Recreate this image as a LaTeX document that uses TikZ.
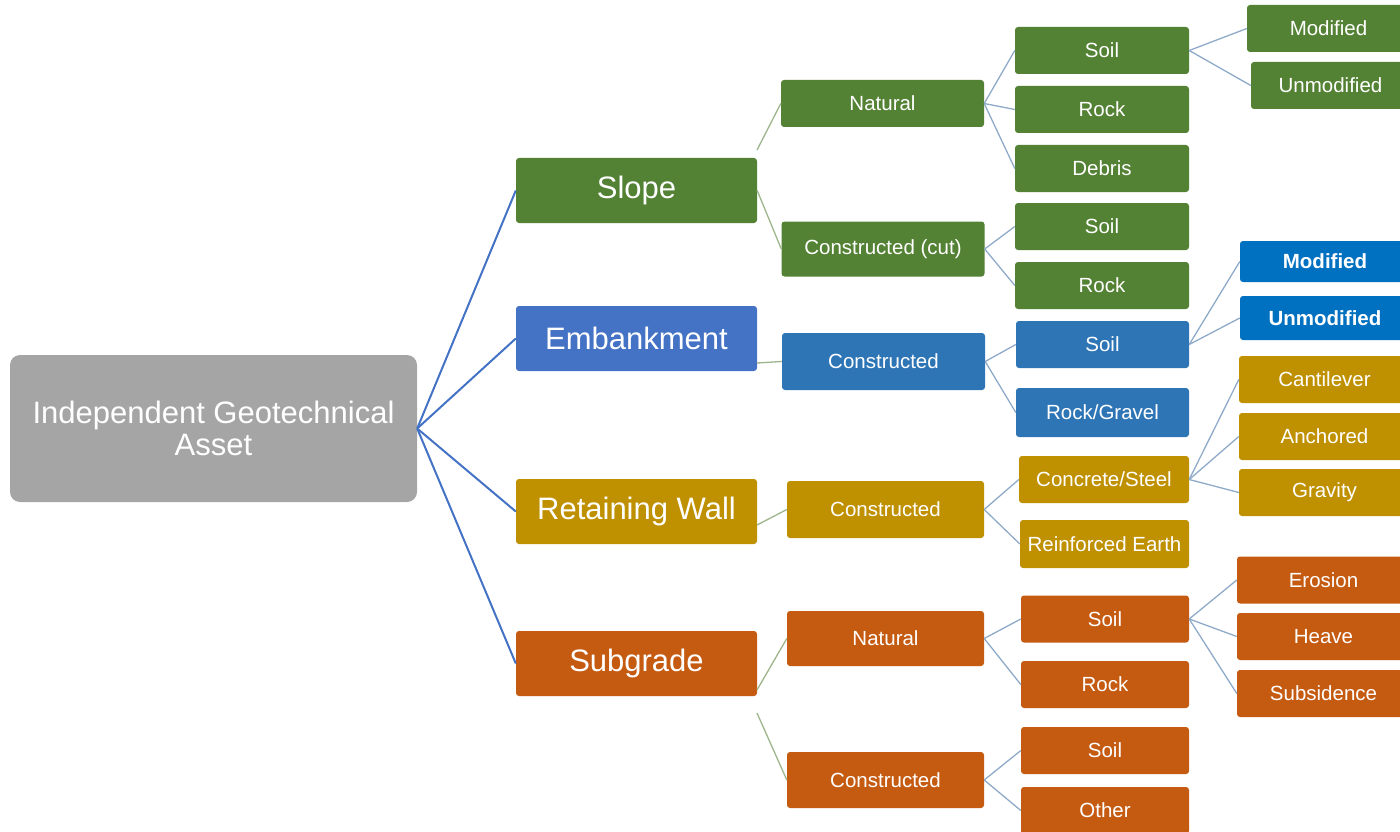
\documentclass[tikz,border=0pt]{standalone}
\usepackage{fontspec}
\setmainfont{Liberation Sans}
\usepackage{xcolor}
\usepackage{tikz}
\usetikzlibrary{positioning,calc}

\definecolor{rootgray}{HTML}{A5A5A5}
\definecolor{slopegreen}{HTML}{548235}
\definecolor{embblue}{HTML}{4472C4}
\definecolor{embsub}{HTML}{2E75B6}
\definecolor{embleaf}{HTML}{0070C0}
\definecolor{wallgold}{HTML}{BF9000}
\definecolor{subgorange}{HTML}{C55A11}
\definecolor{trunkline}{HTML}{4472C4}
\definecolor{twigline}{HTML}{8FAAC8}
\definecolor{stemline}{HTML}{9CB58A}

\tikzset{
  box/.style={rectangle, rounded corners=3pt, inner sep=0pt, text=white, font=\fontsize{20.5}{22}\selectfont},
  rootbox/.style={box, fill=rootgray, rounded corners=10pt, minimum width=407pt, minimum height=147pt,
    align=center, font=\fontsize{31}{32}\selectfont},
  topbox/.style={box, minimum width=241pt, minimum height=65pt, font=\fontsize{31}{34}\selectfont},
  midbox/.style={box, minimum width=203pt, minimum height=55pt},
  subbox/.style={box, minimum width=174pt, minimum height=47pt},
  leafbox/.style={box, minimum width=170pt, minimum height=47pt},
  trunk/.style={draw=trunkline, line width=2pt},
  stem/.style={draw=stemline, line width=1.3pt},
  twig/.style={draw=twigline, line width=1.3pt}
}

\begin{document}
\begin{tikzpicture}[x=1pt, y=-1pt]
    \useasboundingbox (0,0) rectangle (1400,832);
    \clip (0,0) rectangle (1400,832);

    % root and the four asset types
    \node[rootbox] (root) at (213.5,428.5) {Independent Geotechnical\\Asset};
    \node[topbox, fill=slopegreen] (slope) at (636.5,190.5) {Slope};
    \node[topbox, fill=embblue] (emb) at (636.5,338.5) {Embankment};
    \node[topbox, fill=wallgold] (wall) at (636.5,511.5) {Retaining Wall};
    \node[topbox, fill=subgorange] (subg) at (636.5,663.5) {Subgrade};
    \foreach \t in {slope,emb,wall,subg} \draw[trunk] (root.east) -- (\t.west);

    % second level
    \node[midbox, fill=slopegreen, minimum height=47pt] (nat1) at (882.5,103.5) {Natural};
    \node[midbox, fill=slopegreen] (cut1) at (883,249) {Constructed (cut)};
    \node[midbox, fill=embsub, minimum height=57pt] (con2) at (883.5,361.5) {Constructed};
    \node[midbox, fill=wallgold, minimum width=197pt, minimum height=57pt] (con3) at (885.5,509.5) {Constructed};
    \node[midbox, fill=subgorange, minimum width=197pt] (nat4) at (885.5,638.5) {Natural};
    \node[midbox, fill=subgorange, minimum width=197pt, minimum height=56pt] (con4) at (885.5,780) {Constructed};

    \coordinate (s1) at (757,150);
    \coordinate (s2) at (757,190);
    \coordinate (e1) at (757,363);
    \coordinate (w1) at (757,525);
    \coordinate (g1) at (757,690);
    \coordinate (g2) at (757,713);
    \draw[stem] (s1) -- (nat1.west);
    \draw[stem] (s2) -- (cut1.west);
    \draw[stem] (e1) -- (con2.west);
    \draw[stem] (w1) -- (con3.west);
    \draw[stem] (g1) -- (nat4.west);
    \draw[stem] (g2) -- (con4.west);

    % third level
    \foreach \n/\y/\t in {soil1/50.5/Soil, rock1/109.5/Rock, debris1/168.5/Debris,
                          soil1b/226.5/Soil, rock1b/285.5/Rock}
        \node[subbox, fill=slopegreen] (\n) at (1102,\y) {\t};
    \node[subbox, fill=embsub, minimum width=173pt] (soil2) at (1102.5,344.5) {Soil};
    \node[subbox, fill=embsub, minimum width=173pt, minimum height=49pt] (rock2) at (1102.5,412.5) {Rock/Gravel};
    \node[subbox, fill=wallgold, minimum width=170pt] (cs3) at (1104,479.5) {Concrete/Steel};
    \node[subbox, fill=wallgold, minimum width=169pt, minimum height=48pt] (re3) at (1104.5,544) {Reinforced Earth};
    \foreach \n/\y/\t in {soil4/619/Soil, rock4/684.5/Rock, soil4b/750.5/Soil, other4/810.5/Other}
        \node[subbox, fill=subgorange, minimum width=168pt] (\n) at (1105,\y) {\t};

    \foreach \c in {soil1,rock1,debris1} \draw[twig] (nat1.east) -- (\c.west);
    \foreach \c in {soil1b,rock1b} \draw[twig] (cut1.east) -- (\c.west);
    \foreach \c in {soil2,rock2} \draw[twig] (con2.east) -- (\c.west);
    \foreach \c in {cs3,re3} \draw[twig] (con3.east) -- (\c.west);
    \foreach \c in {soil4,rock4} \draw[twig] (nat4.east) -- (\c.west);
    \foreach \c in {soil4b,other4} \draw[twig] (con4.east) -- (\c.west);

    % fourth level, cut off at the right edge
    \node[leafbox, fill=slopegreen, minimum width=163pt] (mod1) at (1328.5,28.5) {Modified};
    \node[leafbox, fill=slopegreen, minimum width=159pt] (unmod1) at (1330.5,85.5) {Unmodified};
    \node[leafbox, fill=embleaf, minimum height=41pt, font=\fontsize{20.5}{22}\selectfont\bfseries] (mod2) at (1325,261.5) {Modified};
    \node[leafbox, fill=embleaf, minimum height=44pt, font=\fontsize{20.5}{22}\selectfont\bfseries] (unmod2) at (1325,318) {Unmodified};
    \foreach \n/\y/\t in {cant3/379.5/Cantilever, anch3/436.5/Anchored, grav3/492.5/Gravity}
        \node[leafbox, fill=wallgold, minimum width=171pt] (\n) at (1324.5,\y) {\t};
    \foreach \n/\y/\t in {eros4/580/Erosion, heave4/636.5/Heave, subs4/693.5/Subsidence}
        \node[leafbox, fill=subgorange, minimum width=173pt] (\n) at (1323.5,\y) {\t};

    \foreach \c in {mod1,unmod1} \draw[twig] (soil1.east) -- (\c.west);
    \foreach \c in {mod2,unmod2} \draw[twig] (soil2.east) -- (\c.west);
    \foreach \c in {cant3,anch3,grav3} \draw[twig] (cs3.east) -- (\c.west);
    \foreach \c in {eros4,heave4,subs4} \draw[twig] (soil4.east) -- (\c.west);
\end{tikzpicture}
\end{document}
